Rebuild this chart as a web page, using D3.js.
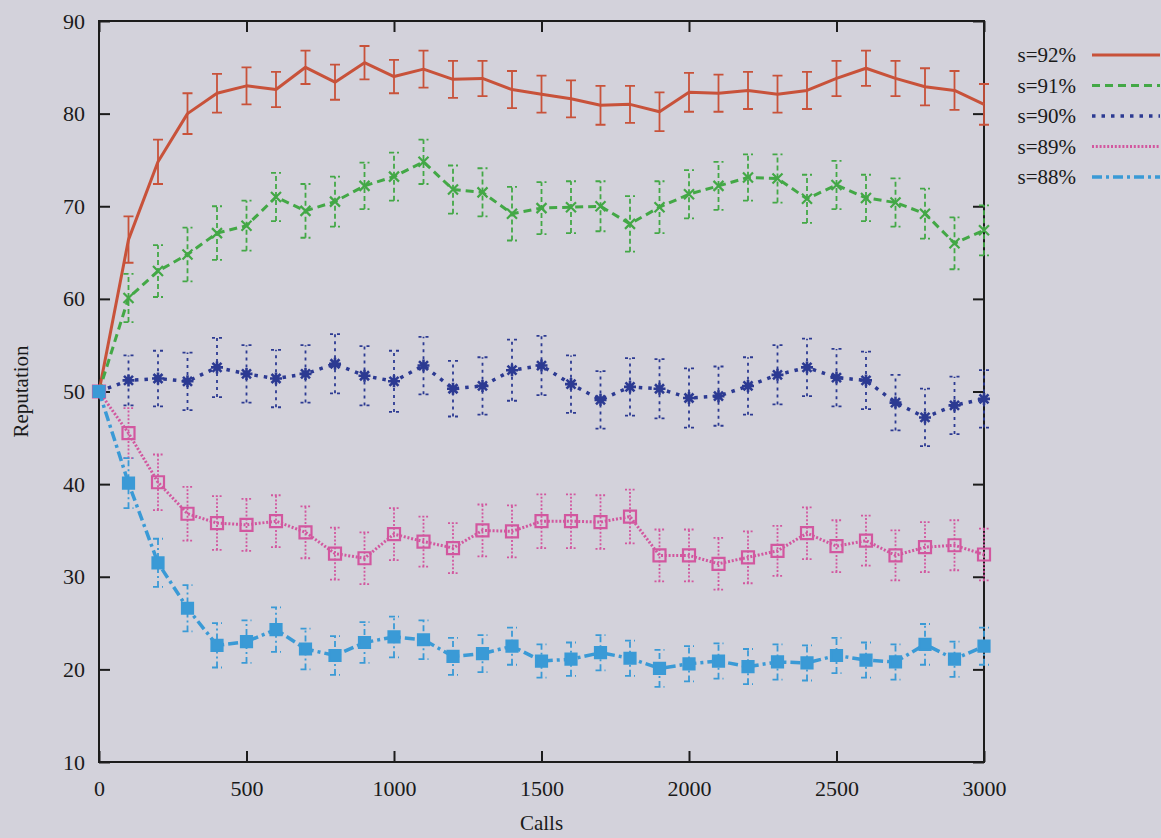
<!DOCTYPE html>
<html>
<head>
<meta charset="utf-8">
<script src="https://cdn.jsdelivr.net/npm/d3@7"></script>
<style>
  html, body { margin: 0; padding: 0; background: #d3d2db; }
  svg { display: block; }
</style>
</head>
<body>
<script>
/* global d3 */
(function () {
    'use strict';

    // ---- data ----
    var calls = [0, 100, 200, 300, 400, 500, 600, 700, 800, 900, 1000,
        1100, 1200, 1300, 1400, 1500, 1600, 1700, 1800, 1900, 2000,
        2100, 2200, 2300, 2400, 2500, 2600, 2700, 2800, 2900, 3000];

    var s92 = [50, 66.4, 74.8, 80.0, 82.2, 83.0, 82.6, 85.0, 83.4, 85.5, 84.0,
        84.8, 83.7, 83.8, 82.6, 82.1, 81.6, 80.9, 81.0, 80.2, 82.3,
        82.2, 82.5, 82.1, 82.5, 83.8, 84.9, 83.8, 82.9, 82.5, 81.0];
    var e92 = [0, 2.5, 2.4, 2.2, 2.1, 2.0, 1.9, 1.8, 1.9, 1.8, 1.8,
        2.0, 2.0, 1.9, 2.0, 2.0, 2.0, 2.1, 2.0, 2.1, 2.1,
        2.0, 2.0, 2.0, 2.0, 1.9, 1.9, 1.9, 2.0, 2.1, 2.2];

    var s91 = [50, 60.1, 63.0, 64.8, 67.1, 67.9, 71.0, 69.5, 70.5, 72.2, 73.2,
        74.8, 71.8, 71.5, 69.2, 69.8, 69.9, 70.0, 68.1, 69.9, 71.3,
        72.2, 73.1, 73.0, 70.8, 72.3, 70.9, 70.4, 69.2, 66.0, 67.4];
    var e91 = [0, 2.6, 2.8, 2.9, 2.9, 2.7, 2.6, 2.9, 2.7, 2.5, 2.6,
        2.4, 2.6, 2.6, 2.9, 2.8, 2.8, 2.7, 3.0, 2.8, 2.6,
        2.6, 2.5, 2.6, 2.6, 2.6, 2.5, 2.6, 2.7, 2.8, 2.7];

    var s90 = [50, 51.2, 51.4, 51.1, 52.6, 51.9, 51.4, 51.9, 53.0, 51.7, 51.1,
        52.8, 50.3, 50.6, 52.3, 52.8, 50.8, 49.1, 50.5, 50.3, 49.3,
        49.5, 50.6, 51.8, 52.6, 51.5, 51.2, 48.8, 47.2, 48.5, 49.2];
    var e90 = [0, 2.7, 3.0, 3.1, 3.2, 3.1, 3.1, 3.1, 3.2, 3.2, 3.3,
        3.1, 3.0, 3.1, 3.3, 3.2, 3.1, 3.1, 3.1, 3.2, 3.2,
        3.2, 3.1, 3.2, 3.1, 3.1, 3.1, 3.0, 3.1, 3.1, 3.1];

    var s89 = [50, 45.5, 40.2, 36.8, 35.8, 35.6, 36.0, 34.8, 32.5, 32.0, 34.6,
        33.8, 33.1, 35.0, 34.9, 36.0, 36.0, 35.9, 36.5, 32.3, 32.3,
        31.4, 32.1, 32.8, 34.7, 33.3, 33.9, 32.3, 33.2, 33.4, 32.4];
    var e89 = [0, 2.7, 3.0, 2.9, 2.9, 2.8, 2.8, 2.8, 2.8, 2.8, 2.8,
        2.7, 2.7, 2.8, 2.8, 2.9, 2.9, 2.9, 2.9, 2.8, 2.8,
        2.8, 2.8, 2.7, 2.8, 2.8, 2.7, 2.7, 2.7, 2.7, 2.8];

    var s88 = [50, 40.1, 31.5, 26.6, 22.6, 23.0, 24.3, 22.2, 21.5, 22.9, 23.5,
        23.2, 21.4, 21.7, 22.5, 20.9, 21.1, 21.8, 21.2, 20.1, 20.6,
        20.9, 20.3, 20.8, 20.7, 21.5, 21.0, 20.8, 22.7, 21.1, 22.5];
    var e88 = [0, 2.7, 2.6, 2.5, 2.4, 2.3, 2.4, 2.2, 2.1, 2.2, 2.2,
        2.1, 2.0, 2.0, 2.0, 1.8, 1.8, 1.9, 1.9, 2.0, 1.9,
        1.9, 1.9, 1.9, 1.9, 1.9, 1.9, 1.9, 2.2, 1.9, 2.0];

    var seriesNames = ['s=92%', 's=91%', 's=90%', 's=89%', 's=88%'];
    var xTicks = [0, 500, 1000, 1500, 2000, 2500, 3000];
    var yTicks = [10, 20, 30, 40, 50, 60, 70, 80, 90];

    // ---- styles ----
    var styles = [
        { color: '#c8523a', dash: null, width: 3, errDash: null, marker: 'none' },
        { color: '#43a846', dash: '8,5', width: 3, errDash: '5,3', marker: 'cross' },
        { color: '#2c3a92', dash: '3.5,6', width: 3.5, errDash: '3,4', marker: 'star' },
        { color: '#d2579f', dash: '2,1.8', width: 3, errDash: '2,1.8', marker: 'box' },
        { color: '#3a9ad6', dash: '10,4,3,4', width: 3.5, errDash: '6,3,2,3', marker: 'fbox' }
    ];

    var series = [s92, s91, s90, s89, s88].map(function (vals, i) {
        var errs = [e92, e91, e90, e89, e88][i];
        return {
            name: seriesNames[i],
            style: styles[i],
            points: vals.map(function (v, j) {
                return { x: calls[j], y: v, e: errs[j] };
            })
        };
    });

    var width = 1161, height = 838;
    var svg = d3.select('body').append('svg')
        .attr('width', width)
        .attr('height', height);

    svg.append('rect')
        .attr('width', width)
        .attr('height', height)
        .attr('fill', '#d3d2db');

    var x = d3.scaleLinear().domain([0, 3000]).range([99, 984]);
    var y = d3.scaleLinear().domain([10, 90]).range([762, 21]);

    var font = '"Liberation Serif", "Times New Roman", serif';
    var fmt = d3.format('d');

    // ---- axes (gnuplot style: inward ticks, mirrored) ----
    var axL = svg.append('g')
        .attr('transform', 'translate(' + x(0) + ',0)')
        .call(d3.axisLeft(y).tickValues(yTicks).tickFormat(fmt).tickSize(-11).tickPadding(14));
    var axB = svg.append('g')
        .attr('transform', 'translate(0,' + y(10) + ')')
        .call(d3.axisBottom(x).tickValues(xTicks).tickFormat(fmt).tickSize(-11).tickPadding(18));
    var axR = svg.append('g')
        .attr('transform', 'translate(' + x(3000) + ',0)')
        .call(d3.axisRight(y).tickValues(yTicks).tickSize(-11).tickFormat(''));
    var axT = svg.append('g')
        .attr('transform', 'translate(0,' + y(90) + ')')
        .call(d3.axisTop(x).tickValues(xTicks).tickSize(-11).tickFormat(''));

    [axL, axB, axR, axT].forEach(function (g) {
        g.select('.domain').remove();
        g.selectAll('line').attr('stroke', '#1c1c1c').attr('stroke-width', 2);
        g.selectAll('text')
            .attr('fill', '#1a1a1a')
            .style('font-family', font)
            .style('font-size', '22px');
    });

    svg.append('rect')
        .attr('x', x(0))
        .attr('y', y(90))
        .attr('width', x(3000) - x(0))
        .attr('height', y(10) - y(90))
        .attr('fill', 'none')
        .attr('stroke', '#1c1c1c')
        .attr('stroke-width', 2);

    svg.append('text')
        .attr('transform', 'translate(28,' + ((y(10) + y(90)) / 2) + ') rotate(-90)')
        .attr('text-anchor', 'middle')
        .attr('fill', '#1a1a1a')
        .style('font-family', font)
        .style('font-size', '21px')
        .text('Reputation');

    svg.append('text')
        .attr('x', (x(0) + x(3000)) / 2)
        .attr('y', 830)
        .attr('text-anchor', 'middle')
        .attr('fill', '#1a1a1a')
        .style('font-family', font)
        .style('font-size', '21px')
        .text('Calls');

    // ---- series ----
    var line = d3.line()
        .x(function (d) { return x(d.x); })
        .y(function (d) { return y(d.y); });

    function markerPath(type, px, py) {
        var p = d3.path();
        var r;
        if (type === 'cross') {
            r = 5;
            p.moveTo(px - r, py - r); p.lineTo(px + r, py + r);
            p.moveTo(px - r, py + r); p.lineTo(px + r, py - r);
        } else if (type === 'star') {
            r = 6;
            p.moveTo(px - r, py); p.lineTo(px + r, py);
            p.moveTo(px, py - r); p.lineTo(px, py + r);
            r = 4.5;
            p.moveTo(px - r, py - r); p.lineTo(px + r, py + r);
            p.moveTo(px - r, py + r); p.lineTo(px + r, py - r);
        } else if (type === 'box' || type === 'fbox') {
            r = type === 'box' ? 6 : 5.5;
            p.rect(px - r, py - r, 2 * r, 2 * r);
        }
        return p.toString();
    }

    var groups = svg.selectAll('g.series')
        .data(series)
        .enter()
        .append('g')
        .attr('class', 'series');

    // error bars
    groups.each(function (s) {
        var g = d3.select(this);
        var pts = s.points.filter(function (d) { return d.e > 0; });
        var bars = g.selectAll('g.err').data(pts).enter().append('g').attr('class', 'err');
        bars.append('path')
            .attr('d', function (d) {
                var cx = x(d.x), y0 = y(d.y - d.e), y1 = y(d.y + d.e);
                return 'M' + cx + ',' + y0 + 'V' + y1 +
                    'M' + (cx - 5) + ',' + y0 + 'H' + (cx + 5) +
                    'M' + (cx - 5) + ',' + y1 + 'H' + (cx + 5);
            })
            .attr('fill', 'none')
            .attr('stroke', s.style.color)
            .attr('stroke-width', 1.8)
            .attr('stroke-dasharray', s.style.errDash);
    });

    groups.append('path')
        .attr('d', function (s) { return line(s.points); })
        .attr('fill', 'none')
        .attr('stroke', function (s) { return s.style.color; })
        .attr('stroke-width', function (s) { return s.style.width; })
        .attr('stroke-dasharray', function (s) { return s.style.dash; })
        .attr('stroke-linejoin', 'round');

    groups.each(function (s) {
        if (s.style.marker === 'none') { return; }
        d3.select(this).selectAll('path.mk')
            .data(s.points)
            .enter()
            .append('path')
            .attr('class', 'mk')
            .attr('d', function (d) { return markerPath(s.style.marker, x(d.x), y(d.y)); })
            .attr('fill', s.style.marker === 'fbox' ? s.style.color : 'none')
            .attr('stroke', s.style.color)
            .attr('stroke-width', s.style.marker === 'star' ? 2.6 : 2.2);
    });

    // ---- legend ----
    var legend = svg.selectAll('g.legend')
        .data(series)
        .enter()
        .append('g')
        .attr('class', 'legend')
        .attr('transform', function (d, i) { return 'translate(0,' + (55 + i * 30.5) + ')'; });

    legend.append('text')
        .attr('x', 1076)
        .attr('y', 7)
        .attr('text-anchor', 'end')
        .attr('fill', '#1a1a1a')
        .style('font-family', font)
        .style('font-size', '21px')
        .text(function (d) { return d.name; });

    legend.append('line')
        .attr('x1', 1092)
        .attr('x2', 1160)
        .attr('stroke', function (d) { return d.style.color; })
        .attr('stroke-width', function (d) { return d.style.width; })
        .attr('stroke-dasharray', function (d) { return d.style.dash; });
})();
</script>
</body>
</html>
